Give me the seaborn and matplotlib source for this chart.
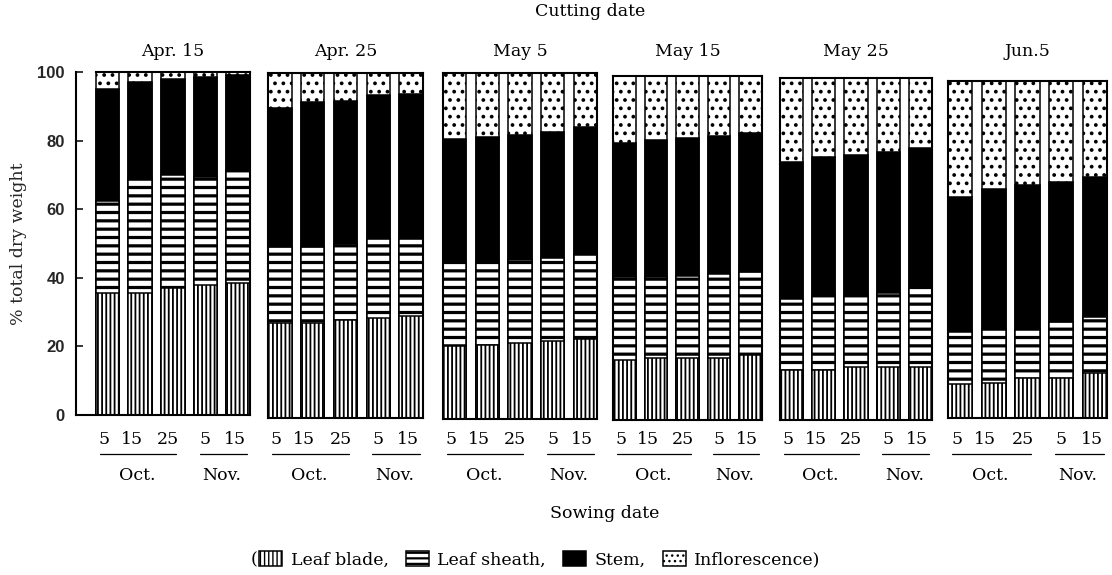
import matplotlib
matplotlib.use("Agg")
import matplotlib.pyplot as plt
from matplotlib.patches import Patch
from matplotlib.transforms import blended_transform_factory
import pandas as pd
import seaborn as sns

# ---------------------------------------------------------------- data
cutting_dates = ["Apr. 15", "Apr. 25", "May 5", "May 15", "May 25", "Jun.5"]
sowing_keys = ["Oct 5", "Oct 15", "Oct 25", "Nov 5", "Nov 15"]
day_labels = ["5", "15", "25", "5", "15"]
month_labels = ["Oct.", "Nov."]

# % of total dry weight; one row per cutting date, one column per sowing date
leaf_blade = [
    [35.5, 35.5, 37.0, 38.0, 38.5],
    [27.5, 27.5, 28.5, 29.0, 29.5],
    [21.0, 21.5, 22.0, 22.5, 23.0],
    [17.5, 18.0, 18.0, 18.0, 19.0],
    [14.5, 14.5, 15.5, 15.5, 15.5],
    [10.0, 10.5, 12.0, 12.0, 13.5],
]
leaf_sheath = [
    [27.0, 33.5, 33.0, 31.5, 32.5],
    [22.0, 22.0, 22.0, 23.0, 22.5],
    [24.0, 24.0, 24.0, 24.0, 25.0],
    [24.0, 23.5, 24.0, 24.5, 24.0],
    [21.0, 22.0, 21.0, 21.5, 23.0],
    [15.5, 16.0, 14.5, 16.5, 16.5],
]
stem = [
    [32.5, 28.0, 28.0, 29.0, 28.0],
    [40.5, 42.0, 41.5, 41.5, 42.0],
    [36.0, 36.0, 36.0, 36.5, 36.5],
    [39.0, 40.0, 40.0, 40.0, 40.5],
    [40.0, 40.5, 41.0, 41.5, 41.0],
    [40.0, 41.5, 42.5, 41.5, 41.5],
]
inflorescence = [
    [5.0, 3.0, 2.0, 1.5, 1.0],
    [10.0, 8.5, 8.0, 6.5, 6.0],
    [19.0, 18.5, 18.0, 17.0, 15.5],
    [19.5, 18.5, 18.0, 17.5, 16.5],
    [24.5, 23.0, 22.5, 21.5, 20.5],
    [34.5, 32.0, 31.0, 30.0, 28.5],
]

rows = []
for i, date in enumerate(cutting_dates):
    for j, key in enumerate(sowing_keys):
        rows.append({
            "cutting": date, "sowing": key,
            "blade": leaf_blade[i][j], "sheath": leaf_sheath[i][j],
            "stem": stem[i][j], "inflorescence": inflorescence[i][j],
        })
df = pd.DataFrame(rows)
# stacked tops of each component
df["top_blade"] = df["blade"]
df["top_sheath"] = df["top_blade"] + df["sheath"]
df["top_stem"] = df["top_sheath"] + df["stem"]
df["top_infl"] = df["top_stem"] + df["inflorescence"]

# ---------------------------------------------------------------- style
sns.set_theme(style="white")
plt.rcParams["font.family"] = ["DejaVu Serif"]
plt.rcParams["hatch.color"] = "black"
plt.rcParams["text.color"] = "black"

FS = 12.5
W, H = 1112, 575
fig = plt.figure(figsize=(W / 100, H / 100), dpi=100)
fig.patch.set_facecolor("white")

# panel frames in pixels: left, right, top, bottom
frames = [(76, 250, 72, 415), (268, 423, 73, 418), (443, 597, 73, 419),
          (613, 762, 76, 420), (780, 932, 78, 420), (948, 1107, 81, 418)]
BAR_W = 0.72
HALF = BAR_W / 2

# drawing order: full stack first, then each lower part on top
layers = [
    ("top_infl", "white", "..", 1.5),
    ("top_stem", "black", None, 1.0),
    ("top_sheath", "white", "--", 2.3),
    ("top_blade", "white", "||||", 1.3),
]

day_x = [-0.1, 0.75, 1.85, 3.0, 3.9]
month_x = [0.9, 3.5]
underline_spans = [(-0.24, 2.1), (2.82, 4.27)]


def fy(px):
    return 1 - px / H


for i, (date, (x0, x1, yt, yb)) in enumerate(zip(cutting_dates, frames)):
    ax = fig.add_axes([x0 / W, fy(yb), (x1 - x0) / W, (yb - yt) / H])
    sub = df[df["cutting"] == date]
    for col, face, hatch, hlw in layers:
        n0 = len(ax.patches)
        sns.barplot(data=sub, x="sowing", y=col, order=sowing_keys,
                    width=BAR_W, color=face, saturation=1,
                    edgecolor="black", linewidth=1.1, hatch=hatch,
                    errorbar=None, ax=ax)
        for p in ax.patches[n0:]:
            if hasattr(p, "set_hatch_linewidth"):
                p.set_hatch_linewidth(hlw)
    ax.set_ylim(0, 100)
    ax.set_xlabel("")
    ax.set_ylabel("")
    ax.set_xticks([])
    ax.set_facecolor("white")
    for s in ax.spines.values():
        s.set_color("black")
        s.set_linewidth(1.5)
        s.set_visible(True)

    if i == 0:
        ax.set_xlim(-HALF - 0.6, 4 + HALF)
        ax.spines["top"].set_bounds(-HALF, 4 + HALF)
        ax.set_yticks([0, 20, 40, 60, 80, 100])
        ax.set_yticklabels(["0", "20", "40", "60", "80", "100"],
                           family="Liberation Sans", fontweight="bold",
                           fontsize=12)
        ax.tick_params(axis="y", direction="in", length=5, width=1.3,
                       pad=8, left=True)
        ax.set_ylabel("% total dry weight", fontsize=FS)
        ax.yaxis.set_label_coords(-0.28, 0.5)
    else:
        ax.set_xlim(-HALF, 4 + HALF)
        ax.set_yticks([])

    tr = blended_transform_factory(ax.transData, fig.transFigure)
    # panel title
    ax.text(2, fy(51), date, transform=tr, ha="center", va="center",
            fontsize=FS)
    for x, lab in zip(day_x, day_labels):
        ax.text(x, fy(439), lab, transform=tr, ha="center", va="center",
                fontsize=FS, clip_on=False)
    for (a, b), x, lab in zip(underline_spans, month_x, month_labels):
        ax.plot([a, b], [fy(454), fy(454)], transform=tr, color="black",
                lw=0.9, clip_on=False)
        ax.text(x, fy(476), lab, transform=tr, ha="center", va="center",
                fontsize=FS, clip_on=False)

fig.text(590 / W, fy(12), "Cutting date", ha="center", va="center", fontsize=FS)
fig.text(605 / W, fy(514), "Sowing date", ha="center", va="center", fontsize=FS)

handles = [
    Patch(facecolor="white", edgecolor="black", hatch="||||", linewidth=1.1),
    Patch(facecolor="white", edgecolor="black", hatch="---", linewidth=1.1),
    Patch(facecolor="black", edgecolor="black", linewidth=1.1),
    Patch(facecolor="white", edgecolor="black", hatch="...", linewidth=1.1),
]
labels = ["Leaf blade,", "Leaf sheath,", "Stem,", "Inflorescence)"]
leg = fig.legend(handles, labels, loc="center", bbox_to_anchor=(540 / W, fy(560)),
                 ncol=4, frameon=False, fontsize=FS, handlelength=1.3,
                 handleheight=0.9, handletextpad=0.5, columnspacing=1.0)
for p, lw in zip(leg.get_patches(), [1.0, 1.6, 1.0, 1.0]):
    if hasattr(p, "set_hatch_linewidth"):
        p.set_hatch_linewidth(lw)

fig.canvas.draw()
bb = leg.get_patches()[0].get_window_extent()
fig.text((bb.x0 - 2) / W, fy(560), "(", ha="right", va="center", fontsize=FS)

fig.savefig("out.png", dpi=100, facecolor="white")
